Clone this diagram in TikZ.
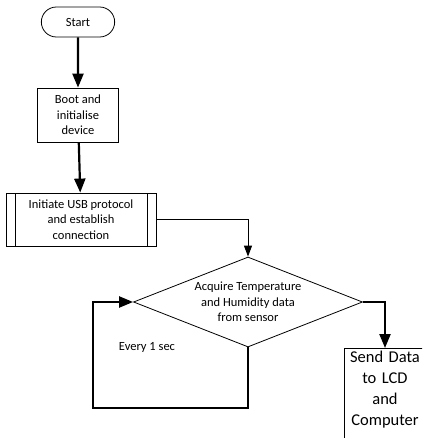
\documentclass[tikz,border=0pt]{standalone}
\usepackage{fontspec}
\setmainfont{Carlito}
\usetikzlibrary{arrows.meta,calc,positioning,shapes.geometric,shapes.misc}

\begin{document}
\begin{tikzpicture}[
  x=1pt,y=-1pt,
  terminal/.style={draw,line width=0.8pt,rounded rectangle,minimum width=80pt,minimum height=30pt,font=\fontsize{12.5}{15.5}\selectfont},
  process/.style={draw,line width=0.8pt,align=center,font=\fontsize{12.5}{15.5}\selectfont,inner sep=0pt},
  subproc/.style={process,path picture={
      \draw[line width=0.8pt] ([xshift=9pt]path picture bounding box.north west) -- ([xshift=9pt]path picture bounding box.south west);
      \draw[line width=0.8pt] ([xshift=-9pt]path picture bounding box.north east) -- ([xshift=-9pt]path picture bounding box.south east);}},
  decision/.style={draw,line width=0.8pt,diamond,aspect=2.5,inner sep=0pt,minimum width=229pt,minimum height=90pt,align=center,font=\fontsize{12.5}{15.5}\selectfont},
  output/.style={draw,line width=0.8pt,align=center,font=\fontsize{16.5}{21}\selectfont,inner xsep=2pt,inner ysep=3pt},
  flow/.style={-{Triangle[length=14pt,width=11pt]},line width=2.2pt},
  link/.style={-{Triangle[length=11pt,width=8pt]},line width=1pt}
]
\clip (0,0) rectangle (422,438);
\node[terminal] (start) at (78,22) {Start};
\node[process,minimum width=81pt,minimum height=54pt] (boot) at (78,115) {Boot and\\initialise\\device};
\node[subproc,minimum width=150pt,minimum height=53pt] (usb) at (81,219.5) {Initiate USB protocol\\and establish\\connection};
\node[decision] (acq) at (248,302) {Acquire Temperature\\and Humidity data\\from sensor};
\node[output,text width=78pt,anchor=north] (send) at (385,348) {Send Data\\to LCD\\and\\Computer\rule[-14pt]{0pt}{0pt}};
\node[font=\fontsize{12.5}{15.5}\selectfont] (every) at (147,347) {Every 1 sec};
\coordinate (loop) at (93,408);

\draw[flow] (start) -- (boot);
\draw[flow] (boot) -- (usb);
\draw[link] (usb.east) -| (acq.north);
\draw[flow] (acq.south) |- (loop) |- (acq.west);
\draw[flow] (acq.east) -| (send.north);
\end{tikzpicture}
\end{document}
